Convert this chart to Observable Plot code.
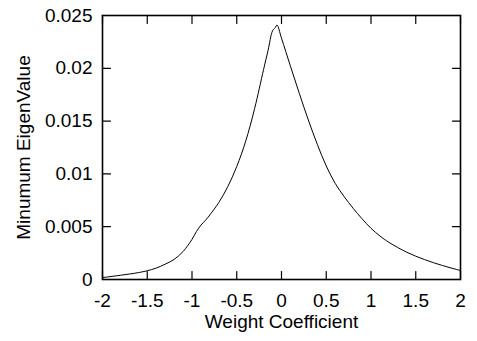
<!DOCTYPE html>
<html>
<head>
<meta charset="utf-8">
<script src="https://cdn.jsdelivr.net/npm/d3@7"></script>
<script src="https://cdn.jsdelivr.net/npm/@observablehq/plot@0.6"></script>
<style>
  html, body { margin: 0; padding: 0; background: #fff; }
  svg { font-family: "Liberation Sans", Arial, Helvetica, sans-serif; }
</style>
</head>
<body>
<div id="chart"></div>
<script>
const weight = [-2, -1.8, -1.6, -1.5, -1.4, -1.3, -1.2, -1.1, -1.0, -0.95, -0.9, -0.85, -0.8, -0.7, -0.6, -0.5, -0.4, -0.3, -0.2, -0.15, -0.1, -0.07, -0.05, 0, 0.1, 0.2, 0.3, 0.4, 0.5, 0.6, 0.7, 0.8, 0.9, 1.0, 1.1, 1.2, 1.4, 1.6, 1.8, 2.0];
const eigen = [0.00018, 0.00040, 0.00065, 0.00083, 0.00108, 0.00145, 0.00190, 0.00265, 0.00380, 0.00455, 0.00515, 0.00560, 0.00612, 0.00730, 0.00880, 0.01070, 0.01310, 0.01620, 0.01990, 0.02170, 0.02355, 0.02385, 0.02410, 0.02285, 0.02020, 0.01760, 0.01510, 0.01280, 0.01075, 0.00910, 0.00785, 0.00675, 0.00575, 0.00485, 0.00412, 0.00352, 0.00258, 0.00188, 0.00132, 0.00085];
const xTicks = [-2, -1.5, -1, -0.5, 0, 0.5, 1, 1.5, 2];
const yTicks = [0, 0.005, 0.01, 0.015, 0.02, 0.025];
const xLabel = "Weight Coefficient";
const yLabel = "Minumum EigenValue";

const data = weight.map((w, i) => ({w, v: eigen[i]}));
const fmt = d => String(d).replace("\u2212", "-");

const tickLen = 8;
const up = {draw(c, l) { c.moveTo(0, 0); c.lineTo(0, -l); }};
const down = {draw(c, l) { c.moveTo(0, 0); c.lineTo(0, l); }};
const right = {draw(c, l) { c.moveTo(0, 0); c.lineTo(l, 0); }};
const left = {draw(c, l) { c.moveTo(0, 0); c.lineTo(-l, 0); }};
const fs = 19;

const chart = Plot.plot({
  width: 477,
  height: 341,
  marginLeft: 102,
  marginRight: 17,
  marginTop: 15,
  marginBottom: 62,
  style: {fontSize: fs + "px", fontFamily: "'Liberation Sans', Arial, sans-serif", color: "black", background: "white"},
  x: {domain: [-2, 2]},
  y: {domain: [0, 0.025]},
  marks: [
    Plot.axisX(xTicks, {tickSize: 0, tickPadding: 14, tickFormat: fmt, label: null, fontSize: fs, fill: "black"}),
    Plot.axisY(yTicks, {tickSize: 0, tickPadding: 10, tickFormat: d => String(d), label: null, fontSize: fs, fill: "black"}),
    Plot.vector(xTicks, {x: d => d, frameAnchor: "bottom", anchor: "start", length: tickLen, shape: up, stroke: "black", strokeWidth: 1.2}),
    Plot.vector(xTicks, {x: d => d, frameAnchor: "top", anchor: "start", length: tickLen, shape: down, stroke: "black", strokeWidth: 1.2}),
    Plot.vector(yTicks, {y: d => d, frameAnchor: "left", anchor: "start", length: tickLen, shape: right, stroke: "black", strokeWidth: 1.2}),
    Plot.vector(yTicks, {y: d => d, frameAnchor: "right", anchor: "start", length: tickLen, shape: left, stroke: "black", strokeWidth: 1.2}),
    Plot.line(data, {x: "w", y: "v", stroke: "black", strokeWidth: 1, curve: "catmull-rom"}),
    Plot.frame({stroke: "black", strokeWidth: 1.6}),
    Plot.text([xLabel], {frameAnchor: "bottom", dy: 48, fontSize: fs, fill: "black", text: d => d}),
    Plot.text([yLabel], {frameAnchor: "left", textAnchor: "middle", dx: -79, rotate: -90, fontSize: fs, fill: "black", text: d => d})
  ]
});
document.getElementById("chart").appendChild(chart);
</script>
</body>
</html>
